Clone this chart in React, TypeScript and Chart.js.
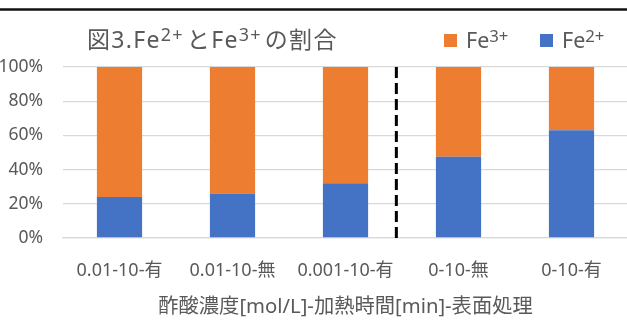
import React, { useEffect, useRef } from 'react';
import { Chart, registerables } from 'chart.js';

Chart.register(...registerables);

const categories = ['0.01-10-有', '0.01-10-無', '0.001-10-有', '0-10-無', '0-10-有'];
const fe2Label = 'Fe²⁺';
const fe3Label = 'Fe³⁺';
const fe2Values = [24, 26, 32, 47.5, 63];
const fe3Values = [76, 74, 68, 52.5, 37];
const yTicks = [0, 20, 40, 60, 80, 100];
const titleText = '図3.Fe²⁺とFe³⁺の割合';
const xAxisTitle = '酢酸濃度[mol/L]-加熱時間[min]-表面処理';
const dividerAt = 2.45;

const FONT = '"Noto Sans", "Noto Sans CJK JP", "DejaVu Sans", sans-serif';
const TEXT = '#595959';
const BLUE = '#4472C4';
const ORANGE = '#ED7D31';
const GRID = '#D9D9D9';

const SUP: Record<string, string> = { '²': '2', '³': '3', '⁺': '+' };

// Draws text, rendering unicode superscript characters as raised smaller text.
function drawRich(
  ctx: CanvasRenderingContext2D,
  text: string,
  x: number,
  y: number,
  size: number,
  gap: number,
  spacing: number
) {
  let cx = x;
  let buf = '';
  let sup = false;
  const anyCtx = ctx as any;
  anyCtx.letterSpacing = `${spacing}px`;
  const flush = () => {
    if (!buf) return;
    if (sup) {
      ctx.font = `${size * 0.78}px ${FONT}`;
      ctx.fillText(buf, cx, y - size * 0.3);
      cx += ctx.measureText(buf).width + gap;
    } else {
      ctx.font = `${size}px ${FONT}`;
      ctx.fillText(buf, cx, y);
      cx += ctx.measureText(buf).width;
    }
    buf = '';
  };
  for (const ch of text) {
    const isSup = ch in SUP;
    if (isSup !== sup) {
      flush();
      sup = isSup;
    }
    buf += isSup ? SUP[ch] : ch;
  }
  flush();
  anyCtx.letterSpacing = '0px';
}

const decor = {
  id: 'decor',
  beforeDraw(chart: any) {
    const ctx = chart.ctx;
    ctx.save();
    ctx.fillStyle = '#ffffff';
    ctx.fillRect(0, 0, chart.width, chart.height);
    ctx.restore();
  },
  afterDatasetsDraw(chart: any) {
    const ctx = chart.ctx;
    const { top, bottom } = chart.chartArea;
    const xs = chart.scales.x;
    const i0 = Math.floor(dividerAt);
    const p0 = xs.getPixelForTick(i0);
    const p1 = xs.getPixelForTick(i0 + 1);
    const px = p0 + (dividerAt - i0) * (p1 - p0);
    ctx.save();
    ctx.strokeStyle = '#000000';
    ctx.lineWidth = 3;
    ctx.setLineDash([11, 5]);
    ctx.beginPath();
    ctx.moveTo(px, top);
    ctx.lineTo(px, bottom);
    ctx.stroke();
    ctx.restore();
  },
  afterDraw(chart: any) {
    const ctx = chart.ctx;
    ctx.save();
    // top rule
    ctx.fillStyle = '#8a8a8a';
    ctx.fillRect(0, 8, chart.width, 3);
    ctx.fillStyle = '#111111';
    ctx.fillRect(0, 8.5, chart.width, 2);
    // title
    ctx.fillStyle = TEXT;
    ctx.textAlign = 'left';
    ctx.textBaseline = 'alphabetic';
    drawRich(ctx, titleText, 87, 48, 23, 3, 1.3);
    // legend (Fe3+ first, then Fe2+)
    const ds = chart.data.datasets;
    const items = [
      { ds: ds[1], x: 444 },
      { ds: ds[0], x: 540 },
    ];
    for (const it of items) {
      ctx.fillStyle = it.ds.backgroundColor;
      ctx.fillRect(it.x, 34, 13, 13);
      ctx.fillStyle = TEXT;
      drawRich(ctx, it.ds.label, it.x + 22, 48, 21.5, 0.5, 0);
    }
    ctx.restore();
  },
};

export default function App() {
  const ref = useRef<HTMLCanvasElement | null>(null);

  useEffect(() => {
    if (!ref.current) return;
    const chart = new Chart(ref.current, {
      type: 'bar',
      data: {
        labels: categories,
        datasets: [
          {
            label: fe2Label,
            data: fe2Values,
            backgroundColor: BLUE,
            borderWidth: 0,
            barPercentage: 0.4,
            categoryPercentage: 1,
          },
          {
            label: fe3Label,
            data: fe3Values,
            backgroundColor: ORANGE,
            borderWidth: 0,
            barPercentage: 0.4,
            categoryPercentage: 1,
          },
        ],
      },
      options: {
        responsive: false,
        animation: false,
        devicePixelRatio: 1,
        layout: { padding: { top: 67, right: 12, left: 0, bottom: 0 } },
        plugins: {
          legend: { display: false },
          title: { display: false },
          tooltip: { enabled: false },
        },
        scales: {
          x: {
            stacked: true,
            grid: { display: false, drawTicks: false },
            border: { display: true, color: GRID, width: 1.3 },
            ticks: {
              color: TEXT,
              font: { size: 18, family: FONT },
              padding: 22,
              maxRotation: 0,
              autoSkip: false,
            },
            title: {
              display: true,
              text: xAxisTitle,
              color: TEXT,
              font: { size: 20.3, family: FONT },
              padding: { top: 0, bottom: 4 },
            },
            afterFit: (s: any) => {
              s.height = 85;
            },
          },
          y: {
            stacked: true,
            min: 0,
            max: 100,
            afterBuildTicks: (s: any) => {
              s.ticks = yTicks.map((v) => ({ value: v }));
            },
            ticks: {
              color: TEXT,
              font: { size: 17.5, family: FONT },
              padding: 20,
              callback: (v: any) => `${v}%`,
            },
            grid: { color: GRID, lineWidth: 1.3, drawTicks: false },
            border: { display: false },
            afterFit: (s: any) => {
              s.width = 63;
            },
          },
        },
      },
      plugins: [decor],
    });
    return () => chart.destroy();
  }, []);

  return (
    <div
      style={{
        position: 'fixed',
        left: 0,
        top: 0,
        width: 627,
        height: 323,
        overflow: 'hidden',
        background: '#fff',
      }}
    >
      <canvas ref={ref} width={640} height={323} style={{ display: 'block' }} />
    </div>
  );
}
